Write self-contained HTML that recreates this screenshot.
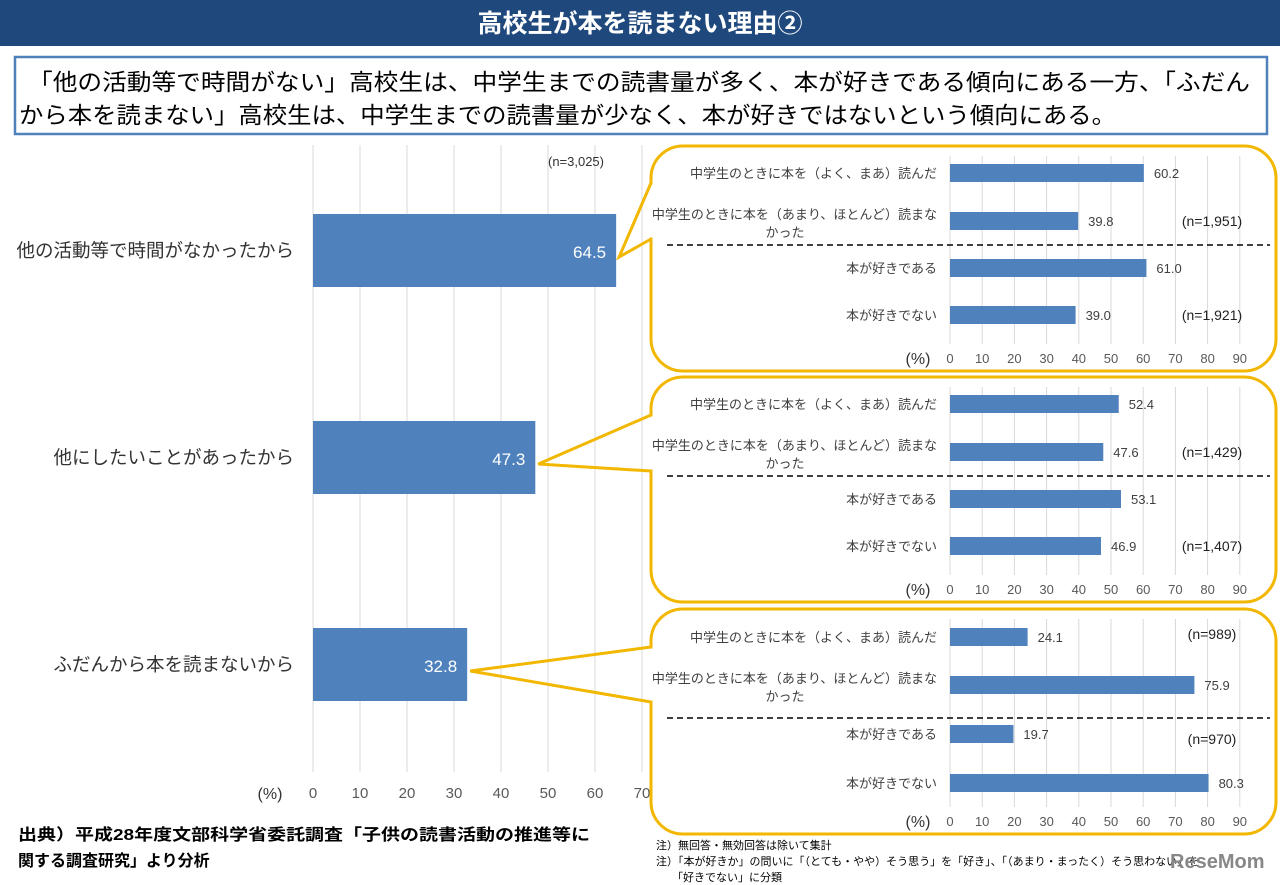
<!DOCTYPE html>
<html><head><meta charset="utf-8"><style>
body{margin:0;width:1280px;height:885px;background:#fff;overflow:hidden;font-family:"Liberation Sans","Noto Sans CJK JP",sans-serif;}
</style></head><body>
<svg id="c" width="1280" height="885" xmlns="http://www.w3.org/2000/svg" style="position:absolute;left:0;top:0;font-family:'Liberation Sans','Noto Sans CJK JP',sans-serif">
<rect x="0" y="0" width="1280" height="46" fill="#1f497d"/>
<text x="640" y="32" text-anchor="middle" fill="#fff" font-size="25" font-weight="bold">高校生が本を読まない理由②</text>
<rect x="15" y="57" width="1252" height="77" fill="#fff" stroke="#4f81bd" stroke-width="2.5"/>
<text x="28" y="90" font-size="23" fill="#000" textLength="1222" lengthAdjust="spacingAndGlyphs">「他の活動等で時間がない」高校生は、中学生までの読書量が多く、本が好きである傾向にある一方、「ふだん</text>
<text x="19" y="123" font-size="23" fill="#000" textLength="1097" lengthAdjust="spacingAndGlyphs">から本を読まない」高校生は、中学生までの読書量が少なく、本が好きではないという傾向にある。</text>
<g id="main"></g>
<g id="panels"></g>
<text x="18" y="840" font-size="16" font-weight="bold" textLength="572" lengthAdjust="spacingAndGlyphs">出典）平成28年度文部科学省委託調査「子供の読書活動の推進等に</text>
<text x="18" y="866" font-size="16" font-weight="bold">関する調査研究」より分析</text>
<text x="656" y="849" font-size="11">注）無回答・無効回答は除いて集計</text>
<text x="656" y="865" font-size="11">注）「本が好きか」の問いに「（とても・やや）そう思う」を「好き」、「（あまり・まったく）そう思わない」を</text>
<text x="672" y="881" font-size="11">「好きでない」に分類</text>
<text x="1170" y="868" font-size="20" font-weight="bold" fill="#888">ReseMom</text>
</svg>
<script>
const mainCats=["他の活動等で時間がなかったから","他にしたいことがあったから","ふだんから本を読まないから"];
const mainVals=[64.5,47.3,32.8];
const mainTicks=[0,10,20,30,40,50,60,70];
const subCats=["中学生のときに本を（よく、まあ）読んだ","中学生のときに本を（あまり、ほとんど）読まな|かった","本が好きである","本が好きでない"];
const sub1=[60.2,39.8,61.0,39.0];
const sub2=[52.4,47.6,53.1,46.9];
const sub3=[24.1,75.9,19.7,80.3];
const subN=[["(n=1,951)","(n=1,921)"],["(n=1,429)","(n=1,407)"],["(n=989)","(n=970)"]];
const subTicks=[0,10,20,30,40,50,60,70,80,90];
const NS="http://www.w3.org/2000/svg";
function mk(p,t,a,txt){const e=document.createElementNS(NS,t);for(const k in a)e.setAttribute(k,a[k]);if(txt!=null)e.textContent=txt;p.appendChild(e);return e;}
const main=document.getElementById('main');
const mx=v=>313+v*4.7;
const my=i=>251+i*207;
mainTicks.forEach(t=>{
 const l=mk(main,'line',{x1:mx(t),x2:mx(t),y1:145,y2:772,stroke:'#d9d9d9','stroke-width':1});
 
 
 const tx=mk(main,'text',{x:mx(t),y:798,'text-anchor':'middle','font-size':15,fill:'#595959'},t);
 
 
});
let u=mk(main,'text',{x:270,y:799,'text-anchor':'middle','font-size':16,fill:'#333'},'(%)');

u=mk(main,'text',{x:576,y:166,'text-anchor':'middle','font-size':13,fill:'#333'},'(n=3,025)');

mainVals.forEach((v,i)=>{
 const r=mk(main,'rect',{x:mx(0),y:my(i)-37,width:mx(v)-mx(0),height:73,fill:'#4f81bd'});
 
 
 const t=mk(main,'text',{x:mx(v)-10,y:my(i)+7,'text-anchor':'end','font-size':17,fill:'#fff'},v.toFixed(1));
 
 
 const c=mk(main,'text',{x:294,y:my(i)+6,'text-anchor':'end','font-size':18.5,fill:'#333'},mainCats[i]);
 
 
});
const panels=document.getElementById('panels');
const pTop=[146,377,609];
const tails=[[183,239],[415,471],[647,702]];
const subs=[sub1,sub2,sub3];
const sx=v=>950+v*3.22;
subs.forEach((vals,p)=>{
 const g=mk(panels,'g',{});
 
 
 const y0=pTop[p],h=225;
 const br=mk(g,'rect',{x:651,y:y0,width:625,height:h,rx:32,fill:'#fff',stroke:'#f2b700','stroke-width':3});
 
 
 const [a,b]=tails[p];
 mk(g,'rect',{x:648,y:a+1.5,width:6,height:b-a-3,fill:'#fff'});
 const tl=mk(g,'polyline',{points:`651,${a} ${mx(mainVals[p])+3},${my(p)+6} 651,${b}`,fill:'none',stroke:'#f2b700','stroke-width':3});
 
 
 subTicks.forEach(t=>{
  const l=mk(g,'line',{x1:sx(t),x2:sx(t),y1:y0+10,y2:y0+198,stroke:'#d9d9d9','stroke-width':1});
  
  
  const tx=mk(g,'text',{x:sx(t),y:y0+217,'text-anchor':'middle','font-size':13,fill:'#595959'},t);
  
  
 });
 const uu=mk(g,'text',{x:918,y:y0+218,'text-anchor':'middle','font-size':16,fill:'#333'},'(%)');
 
 const dl=mk(g,'line',{x1:667,x2:1270,y1:y0+(p==2?109:99),y2:y0+(p==2?109:99),stroke:'#000','stroke-width':1.5,'stroke-dasharray':'6,4'});
 
 
 const ys=p==2?[28,76,125,174]:[27,75,122,169];
 vals.forEach((v,i)=>{
  const yc=y0+ys[i];
  const r=mk(g,'rect',{x:sx(0),y:yc-9,width:sx(v)-sx(0),height:18,fill:'#4f81bd'});
  
  
  const t=mk(g,'text',{x:sx(v)+10,y:yc+5,'font-size':13,fill:'#404040'},v.toFixed(1));
  
  
  const parts=subCats[i].split('|');
  parts.forEach((s,k)=>{
   const c=mk(g,'text',{x:parts.length>1&&k==1?785:937,y:yc+5+(parts.length>1?(k==0?-7:11):0),'text-anchor':k==1?'middle':'end','font-size':13,fill:'#404040'},s);
   
   
  });
 });
 const nY=p==2?[y0+30,y0+135]:[y0+ys[1]+5,y0+ys[3]+5];
 subN[p].forEach((n,k)=>{
  const t=mk(g,'text',{x:1212,y:nY[k],'text-anchor':'middle','font-size':14,fill:'#222'},n);
  
  
 });
});
</script>
</body></html>
